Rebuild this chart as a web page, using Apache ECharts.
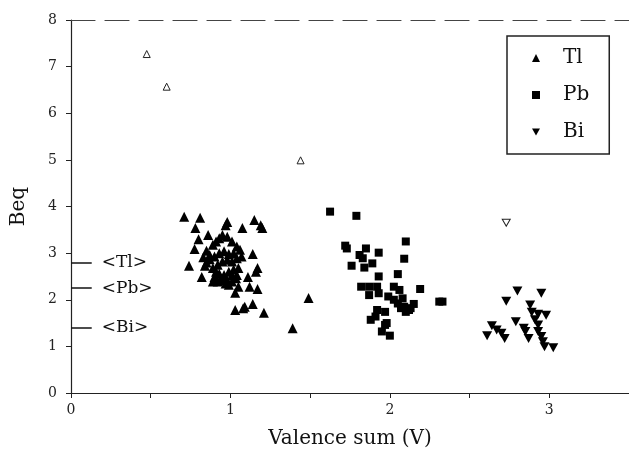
<!DOCTYPE html>
<html>
<head>
<meta charset="utf-8">
<script src="https://cdn.jsdelivr.net/npm/echarts@6/dist/echarts.min.js"></script>
<style>
  html, body { margin: 0; padding: 0; background: #fff; }
  #chart { width: 629px; height: 450px; }
</style>
</head>
<body>
<div id="chart"></div>
<script>
// values: [valence sum, Beq]
const tlPoints = [
  [0.71, 3.78], [0.81, 3.76], [0.98, 3.67], [1.15, 3.71], [1.19, 3.6], [0.78, 3.54],
  [0.97, 3.6], [1.075, 3.54], [1.2, 3.54], [0.8, 3.3], [0.86, 3.39], [0.775, 3.09],
  [0.74, 2.73], [0.82, 2.49],
  [0.85, 3.05], [0.89, 3.18], [0.91, 3.25], [0.93, 3.32], [0.95, 3.39], [0.98, 3.35],
  [1.01, 3.25], [1.04, 3.14], [1.06, 3.07], [1.02, 3.0], [0.99, 2.98], [0.96, 3.04],
  [0.93, 3.0], [0.9, 2.93], [0.87, 2.87], [0.85, 2.8], [0.84, 2.73], [0.89, 2.68],
  [0.92, 2.75], [0.95, 2.82], [0.98, 2.86], [1.01, 2.82], [1.04, 2.89], [1.07, 2.93],
  [1.05, 2.68], [1.02, 2.65], [0.99, 2.6], [0.96, 2.53], [0.93, 2.56], [0.9, 2.49],
  [0.89, 2.39], [0.92, 2.39], [0.95, 2.42], [0.98, 2.42], [1.01, 2.39], [1.035, 2.46],
  [1.04, 2.53], [0.99, 2.32], [0.97, 2.35], [0.94, 2.46], [1.01, 2.53], [0.91, 2.6],
  [0.87, 2.96], [0.83, 2.91],
  [1.14, 2.98], [1.17, 2.68], [1.16, 2.6], [1.11, 2.49], [1.12, 2.28], [1.17, 2.23],
  [1.05, 2.28], [1.03, 2.15], [1.03, 1.78], [1.09, 1.85], [1.14, 1.91], [1.21, 1.72],
  [1.08, 1.82], [1.39, 1.39], [1.49, 2.04]
];
const pbPoints = [
  [1.625, 3.89], [1.79, 3.8], [1.72, 3.16], [1.73, 3.1], [1.85, 3.1], [1.93, 3.01],
  [1.81, 2.96], [1.83, 2.89], [1.89, 2.78], [1.76, 2.73], [1.84, 2.69], [2.1, 3.25],
  [2.09, 2.88], [2.05, 2.55], [1.93, 2.5], [1.82, 2.28], [1.87, 2.28], [1.92, 2.28],
  [1.93, 2.14], [1.87, 2.1], [2.025, 2.28], [2.06, 2.21], [1.99, 2.07], [2.025, 2.0],
  [2.05, 1.92], [2.08, 2.03], [2.09, 1.85], [2.12, 1.78], [2.1, 1.74], [2.15, 1.91],
  [2.13, 1.82], [2.07, 1.82], [2.19, 2.23], [2.31, 1.96], [2.33, 1.96], [1.92, 1.78],
  [1.97, 1.74], [1.88, 1.57], [1.91, 1.64], [1.98, 1.5], [1.95, 1.32], [2.0, 1.23],
  [1.97, 1.46]
];
const biPoints = [
  [2.8, 2.19], [2.95, 2.14], [2.73, 1.97], [2.88, 1.89], [2.89, 1.73], [2.93, 1.69],
  [2.98, 1.67], [2.79, 1.53], [2.64, 1.44], [2.67, 1.35], [2.7, 1.28], [2.61, 1.23],
  [2.72, 1.17], [2.84, 1.39], [2.85, 1.32], [2.87, 1.17], [2.93, 1.46], [2.93, 1.32],
  [2.95, 1.21], [2.96, 1.1], [2.97, 0.99], [3.025, 0.97], [2.91, 1.57]
];
const tlOpen = [[0.475, 7.27], [0.6, 6.57], [1.44, 4.99]];
const biOpen = [[2.73, 3.65]];
const meanLabels = ['<Tl>', '<Pb>', '<Bi>'];
const meanValues = [2.8, 2.25, 1.4];

const serif = 'DejaVu Serif';
const downTri = 'path://M0,0L10,0L5,9Z';

const chart = echarts.init(document.getElementById('chart'));

const meanLines = meanValues.map((v, i) => [
  { coord: [0, v], label: { formatter: meanLabels[i] } },
  { coord: [0.13, v] }
]);

chart.setOption({
  animation: false,
  backgroundColor: '#fff',
  grid: { left: 71, right: 0, top: 20, bottom: 57, containLabel: false, outerBoundsMode: 'none' },
  legend: {
    data: [
      { name: 'Tl', icon: 'triangle' },
      { name: 'Pb', icon: 'rect' },
      { name: 'Bi', icon: downTri }
    ],
    orient: 'vertical',
    left: 507,
    top: 36,
    padding: [12, 20, 12, 25],
    itemGap: 17,
    itemWidth: 8,
    itemHeight: 8,
    borderColor: '#222',
    borderWidth: 1.5,
    textStyle: { fontFamily: serif, fontSize: 20, color: '#111', padding: [0, 0, 0, 18] }
  },
  xAxis: [{
    type: 'value',
    min: 0, max: 3.5, interval: 0.5,
    name: 'Valence sum (V)',
    nameLocation: 'middle',
    nameGap: 36,
    nameTextStyle: { fontFamily: serif, fontSize: 20, color: '#111' },
    axisLine: { lineStyle: { color: '#222', width: 1.2 } },
    axisTick: { inside: false, length: 5, lineStyle: { color: '#222' } },
    axisLabel: {
      fontFamily: serif, fontSize: 14, color: '#222', margin: 10,
      formatter: v => (Number.isInteger(v) ? String(v) : '')
    },
    splitLine: { show: false }
  }, {
    type: 'value',
    position: 'top',
    min: 0, max: 3.5,
    axisLine: { lineStyle: { color: '#444', width: 1.2, type: [24, 10] } },
    axisTick: { show: false },
    axisLabel: { show: false },
    splitLine: { show: false }
  }],
  yAxis: {
    type: 'value',
    min: 0, max: 8, interval: 1,
    name: 'Beq',
    nameLocation: 'middle',
    nameGap: 42,
    nameTextStyle: { fontFamily: serif, fontSize: 20, color: '#111' },
    axisLine: { show: true, lineStyle: { color: '#222', width: 1.2 } },
    axisTick: { show: true, length: 5, lineStyle: { color: '#222' } },
    axisLabel: { fontFamily: serif, fontSize: 14, color: '#222', margin: 14 },
    splitLine: { show: false }
  },
  series: [
    {
      name: 'Tl', type: 'scatter', data: tlPoints,
      symbol: 'triangle', symbolSize: 10,
      itemStyle: { color: '#000', opacity: 1 },
      markLine: {
        silent: true,
        symbol: 'none',
        lineStyle: { color: '#111', width: 1.5, type: 'solid' },
        label: { show: true, position: 'end', distance: 10, fontFamily: serif, fontSize: 17, color: '#111' },
        data: meanLines
      }
    },
    {
      name: 'Pb', type: 'scatter', data: pbPoints,
      symbol: 'rect', symbolSize: 8,
      itemStyle: { color: '#000', opacity: 1 }
    },
    {
      name: 'Bi', type: 'scatter', data: biPoints,
      symbol: downTri, symbolSize: [10, 9],
      itemStyle: { color: '#000', opacity: 1 }
    },
    {
      name: 'Tl open', type: 'scatter', data: tlOpen,
      symbol: 'triangle', symbolSize: 7,
      itemStyle: { color: '#fff', borderColor: '#222', borderWidth: 1, opacity: 1 }
    },
    {
      name: 'Bi open', type: 'scatter', data: biOpen,
      symbol: downTri, symbolSize: [8, 7],
      itemStyle: { color: '#fff', borderColor: '#222', borderWidth: 1, opacity: 1 }
    }
  ]
});
</script>
</body>
</html>
